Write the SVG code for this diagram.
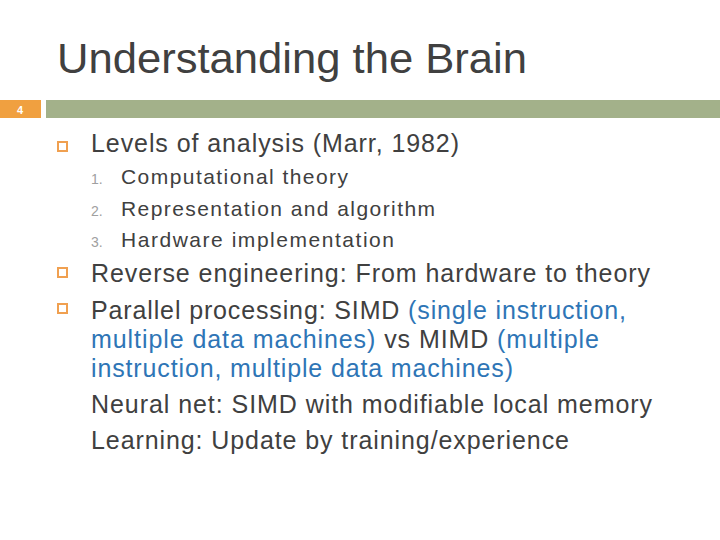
<svg xmlns="http://www.w3.org/2000/svg" width="720" height="540" viewBox="0 0 720 540">
<style>
text{font-family:"Liberation Sans",Arial,sans-serif;fill:#404040}
.b{font-size:25px}.s{font-size:21px}.n{font-size:14px;fill:#a0a0a0}.blue{fill:#2e75b6}
.sq{fill:none;stroke:#f0a050;stroke-width:2}
</style>
<rect width="720" height="540" fill="#fff"/>
<text x="57" y="73" font-size="42" textLength="470" lengthAdjust="spacingAndGlyphs">Understanding the Brain</text>
<rect x="0" y="100" width="41" height="18" fill="#f0a040"/>
<text x="20" y="114" font-size="11" font-weight="bold" text-anchor="middle" style="fill:#fff">4</text>
<rect x="46" y="100" width="674" height="18" fill="#a3b18a"/>
<rect class="sq" x="58" y="142" width="9" height="9"/>
<rect class="sq" x="58" y="268" width="9" height="9"/>
<rect class="sq" x="58" y="304" width="9" height="9"/>
<text class="b" x="91" y="152" textLength="368">Levels of analysis (Marr, 1982)</text>
<text class="n" x="91" y="184">1.</text><text class="s" x="121" y="184" textLength="227">Computational theory</text>
<text class="n" x="91" y="216">2.</text><text class="s" x="121" y="216" textLength="314">Representation and algorithm</text>
<text class="n" x="91" y="247">3.</text><text class="s" x="121" y="247" textLength="273">Hardware implementation</text>
<text class="b" x="91" y="282" textLength="559">Reverse engineering: From hardware to theory</text>
<text class="b" x="91" y="319" textLength="535">Parallel processing: SIMD <tspan class="blue">(single instruction,</tspan></text>
<text class="b" x="91" y="348" textLength="508"><tspan class="blue">multiple data machines)</tspan> vs MIMD <tspan class="blue">(multiple</tspan></text>
<text class="b" x="91" y="377" textLength="422"><tspan class="blue">instruction, multiple data machines)</tspan></text>
<text class="b" x="91" y="413" textLength="561">Neural net: SIMD with modifiable local memory</text>
<text class="b" x="91" y="449" textLength="478">Learning: Update by training/experience</text>
</svg>
